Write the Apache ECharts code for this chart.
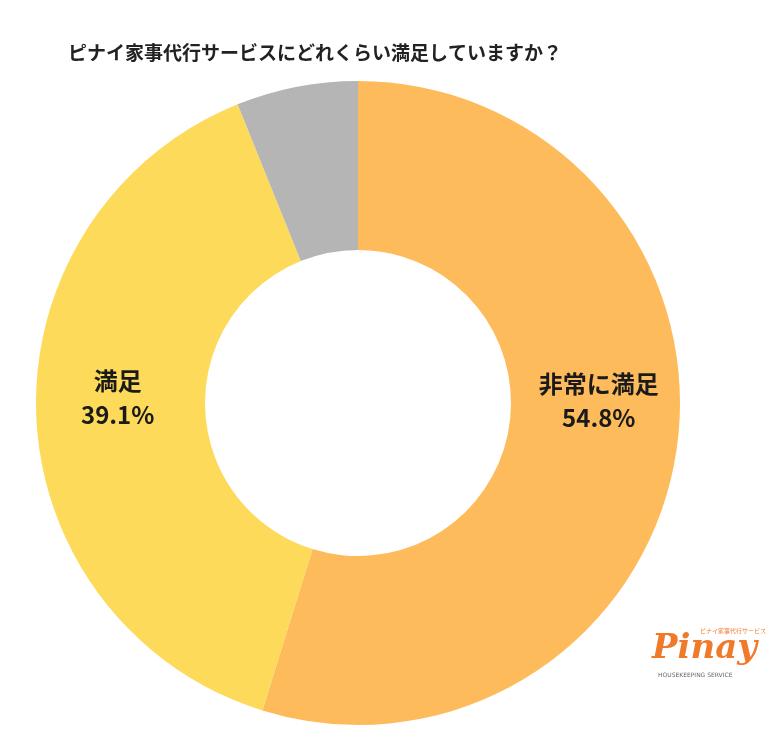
<!DOCTYPE html><html><head><meta charset="utf-8"><script src="https://cdn.jsdelivr.net/npm/echarts@6/dist/echarts.min.js"></script>
<style>body{margin:0;background:#fff}#c{width:780px;height:737px}</style></head><body><div id="c"></div><script>
const categories=['非常に満足','満足','その他'];
const values=[54.8,39.1,6.1];
const colors=['#FDBB5B','#FDDA5A','#B5B5B5'];
const labels=['非常に満足\n54.8%','満足\n39.1%',''];
const offsets=[[3,-38],[0,-15],[0,0]];
const chart=echarts.init(document.getElementById('c'));
chart.setOption({
 animation:false,
 title:{text:'ピナイ家事代行サービスにどれくらい満足していますか？',left:63,top:38,textStyle:{fontFamily:'Noto Sans CJK JP',fontSize:19,fontWeight:'bold',color:'#222'}},
 graphic:[
  {type:'text',left:652,top:632,style:{text:'Pinay',font:'italic bold 34px "DejaVu Serif"',fill:'#F07A2A'}},
  {type:'text',left:700,top:628,style:{text:'ピナイ家事代行サービス',font:'6px "Noto Sans CJK JP"',fill:'#F07A2A'}},
  {type:'text',left:658,top:672,style:{text:'HOUSEKEEPING SERVICE',font:'6px "DejaVu Sans"',fill:'#666'}}
 ],
 series:[{type:'pie',center:[358,403],radius:[153,322],startAngle:90,clockwise:true,
  data:categories.map((n,i)=>({name:n,value:values[i],itemStyle:{color:colors[i]},label:{formatter:labels[i],offset:offsets[i]}})),
  label:{position:'inside',fontFamily:'Noto Sans CJK JP',fontSize:24,fontWeight:'bold',color:'#1a1a1a',lineHeight:34},
  labelLine:{show:false},emphasis:{disabled:true}}]
});
</script></body></html>
